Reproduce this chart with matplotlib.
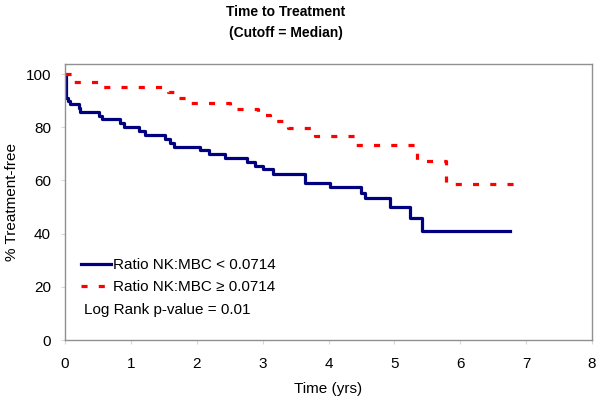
import matplotlib
matplotlib.use("Agg")
from matplotlib import pyplot as plt

plt.rcParams['font.family'] = ['Liberation Sans', 'DejaVu Sans']

# low ratio group (blue, solid)
t_low = [0, 0.01, 0.048, 0.083, 0.21, 0.235, 0.51, 0.56, 0.84, 0.89, 1.12, 1.22,
         1.52, 1.6, 1.65, 2.05, 2.18, 2.43, 2.76, 2.89, 3.0, 3.15, 3.64, 4.02,
         4.5, 4.55, 4.93, 5.24, 5.42, 6.75]
s_low = [100, 91.2, 89.9, 88.7, 87.4, 85.8, 84.3, 83.0, 81.5, 80.1, 78.6, 77.1,
         75.5, 74.2, 72.7, 71.4, 70.1, 68.6, 67.1, 65.5, 64.2, 62.3, 59.1, 57.5,
         55.3, 53.5, 50.1, 45.9, 40.9, 40.9]

# high ratio group (red, dashed)
t_high = [0, 0.1, 0.51, 1.57, 1.65, 1.85, 2.5, 2.93, 3.11, 3.38, 3.8, 4.4,
          5.34, 5.79, 6.9]
s_high = [100, 96.9, 95.0, 93.2, 91.2, 89.2, 87.0, 84.6, 82.4, 79.8, 76.7, 73.2,
          67.2, 58.6, 58.6]

labels = ["Ratio NK:MBC < 0.0714", "Ratio NK:MBC \u2265 0.0714"]
x_ticks = [0, 1, 2, 3, 4, 5, 6, 7, 8]
y_ticks = [0, 20, 40, 60, 80, 100]

fig = plt.figure(figsize=(6, 4.01), dpi=100)
ax = fig.add_axes([65 / 600, 1 - 340 / 401, (592 - 65) / 600, (340 - 63.5) / 401])

ax.step(t_low, s_low, where="post", color="#000080", lw=2.3, label=labels[0])
ax.step(t_high, s_high, where="post", color="#ff0000", lw=2.3,
        linestyle=(0, (1.9, 3.5)), label=labels[1])

ax.set_xlim(0, 8)
ax.set_ylim(0, 104)
ax.set_xticks(x_ticks)
ax.set_yticks(y_ticks)
ax.tick_params(labelsize=11, color="#d8d8d8", length=3, width=0.8)
ax.tick_params(axis="x", pad=9)
ax.tick_params(axis="y", pad=7)
for s in ax.spines.values():
    s.set_color("#909090")
    s.set_linewidth(1.0)

fig.text(328 / 600, 1 - 389 / 401, "Time (yrs)", ha="center", va="center", fontsize=11)
fig.text(12 / 600, 1 - 202 / 401, "% Treatment-free", ha="center", va="center",
         rotation=90, fontsize=11)

fig.text(286 / 600, 1 - 12 / 401, "Time to Treatment", ha="center", va="center",
         fontsize=10, fontweight="bold")
fig.text(286 / 600, 1 - 33 / 401, "(Cutoff = Median)", ha="center", va="center",
         fontsize=10, fontweight="bold")

leg = ax.legend(loc="lower left", bbox_to_anchor=(0.0295, 0.1667), frameon=False,
                fontsize=11, handlelength=2.0, handletextpad=0.15,
                labelspacing=0.5, borderaxespad=0, borderpad=0)
ax.text(0.036, 0.1085, "Log Rank p-value = 0.01", transform=ax.transAxes,
        fontsize=11, va="center")

fig.savefig("out.png", dpi=100)
